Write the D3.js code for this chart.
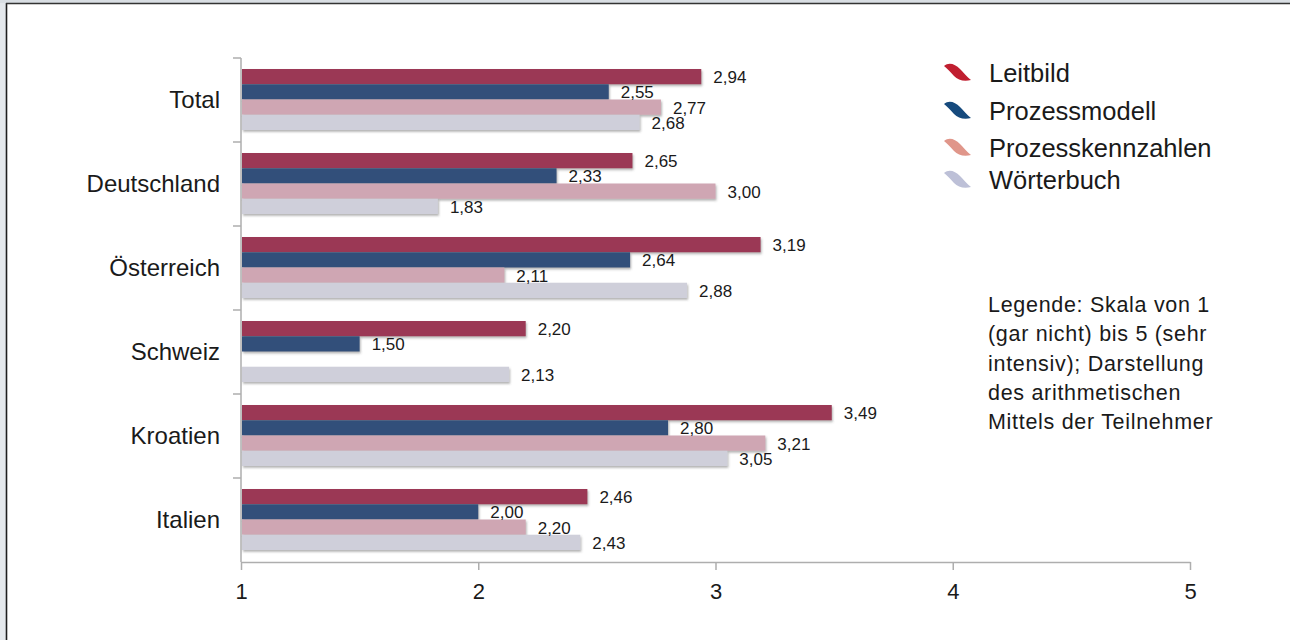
<!DOCTYPE html>
<html>
<head>
<meta charset="utf-8">
<script src="https://cdn.jsdelivr.net/npm/d3@7"></script>
<style>
  html, body { margin: 0; padding: 0; background: #ffffff; overflow: hidden; }
  svg { display: block; }
  text { font-family: "Liberation Sans", Arial, Helvetica, sans-serif; fill: #1a1a1a; }
</style>
</head>
<body>
<svg id="chart" width="1290" height="640"></svg>
<script>
// ---- data ----
const categories = ["Total", "Deutschland", "Österreich", "Schweiz", "Kroatien", "Italien"];
const seriesNames = ["Leitbild", "Prozessmodell", "Prozesskennzahlen", "Wörterbuch"];
const leitbild          = [2.94, 2.65, 3.19, 2.20, 3.49, 2.46];
const prozessmodell     = [2.55, 2.33, 2.64, 1.50, 2.80, 2.00];
const prozesskennzahlen = [2.77, 3.00, 2.11, null, 3.21, 2.20];
const woerterbuch       = [2.68, 1.83, 2.88, 2.13, 3.05, 2.43];
const xTicks = [1, 2, 3, 4, 5];
const noteLines = [
  "Legende: Skala von 1",
  "(gar nicht) bis 5 (sehr",
  "intensiv); Darstellung",
  "des arithmetischen",
  "Mittels der Teilnehmer"
];

const barColors = ["#9b3855", "#33507a", "#cfa6b3", "#cfcfda"];
const legendColors = ["#c01f30", "#164a7d", "#e0968a", "#bdc0d7"];

const seriesValues = [leitbild, prozessmodell, prozesskennzahlen, woerterbuch];

const svg = d3.select("#chart");

// ---- frame ----
svg.append("rect").attr("x", 0).attr("y", 0).attr("width", 1290).attr("height", 640).attr("fill", "#ffffff");
svg.append("rect").attr("x", 0).attr("y", 0).attr("width", 7).attr("height", 640).attr("fill", "#e4e8ec");
svg.append("rect").attr("x", 0).attr("y", 0).attr("width", 1290).attr("height", 3).attr("fill", "#d9dee3");
svg.append("line").attr("x1", 6.5).attr("x2", 6.5).attr("y1", 3).attr("y2", 640)
  .attr("stroke", "#1e1e1e").attr("stroke-width", 1.6);
svg.append("line").attr("x1", 6).attr("x2", 1290).attr("y1", 3.5).attr("y2", 3.5)
  .attr("stroke", "#333333").attr("stroke-width", 1.4);

// ---- scales ----
const x = d3.scaleLinear().domain([1, 5]).range([241, 1190]);
const y = d3.scaleBand().domain(categories).range([58, 562]).paddingInner(0).paddingOuter(0);
const inner = d3.scaleBand().domain(seriesNames)
  .range([11, y.bandwidth() - 12]).padding(0);

// ---- shadow filter ----
const defs = svg.append("defs");
const f = defs.append("filter").attr("id", "shadow")
  .attr("x", "-5%").attr("y", "-30%").attr("width", "110%").attr("height", "170%");
f.append("feDropShadow").attr("dx", 1).attr("dy", 1.8).attr("stdDeviation", 0.9)
  .attr("flood-color", "#555").attr("flood-opacity", 0.45);

// ---- axes ----
const axisColor = "#aeaeae";
const yAxisG = svg.append("g");
yAxisG.append("line").attr("x1", x(1)).attr("x2", x(1)).attr("y1", y.range()[0]).attr("y2", y.range()[1])
  .attr("stroke", axisColor).attr("stroke-width", 1.5);
const boundaries = categories.map(c => y(c));
yAxisG.selectAll("line.bt").data(boundaries).enter().append("line").attr("class", "bt")
  .attr("x1", x(1) - 8).attr("x2", x(1)).attr("y1", d => d).attr("y2", d => d)
  .attr("stroke", axisColor).attr("stroke-width", 1.5);

// category labels
const yLab = svg.append("g").attr("transform", `translate(${x(1)},0)`)
  .call(d3.axisLeft(y).tickSize(0).tickPadding(21));
yLab.select(".domain").remove();
yLab.selectAll("text").attr("font-size", 24).attr("fill", "#141414")
  .style("font-family", '"Liberation Sans", Arial, sans-serif');

// x axis
const xAxisG = svg.append("g").attr("transform", `translate(0,${y.range()[1]})`)
  .call(d3.axisBottom(x).tickValues(xTicks).tickSize(8).tickSizeOuter(0).tickFormat(d3.format("d")));
xAxisG.select(".domain").attr("stroke", axisColor).attr("stroke-width", 1.5);
xAxisG.selectAll(".tick line").attr("stroke", axisColor).attr("stroke-width", 1.5);
xAxisG.selectAll(".tick text").attr("font-size", 22).attr("y", 37).attr("dy", 0)
  .attr("fill", "#141414").style("font-family", '"Liberation Sans", Arial, sans-serif');

// ---- bars ----
const fmt = v => d3.format(".2f")(v).replace(".", ",");
const barRows = [];
categories.forEach((c, ci) => {
  seriesNames.forEach((s, si) => {
    const v = seriesValues[si][ci];
    if (v !== null && v !== undefined) barRows.push({ c, s, si, v });
  });
});

const barsG = svg.append("g");
barsG.selectAll("rect.bar").data(barRows).enter().append("rect").attr("class", "bar")
  .attr("x", x(1) + 1)
  .attr("y", d => y(d.c) + inner(d.s))
  .attr("width", d => x(d.v) - x(1) - 1)
  .attr("height", inner.bandwidth())
  .attr("fill", d => barColors[d.si])
  .attr("filter", "url(#shadow)");

svg.append("g").selectAll("text.val").data(barRows).enter().append("text").attr("class", "val")
  .attr("x", d => x(d.v) + 12)
  .attr("y", d => y(d.c) + inner(d.s) + inner.bandwidth() / 2 + 1)
  .attr("dominant-baseline", "central")
  .attr("font-size", 17)
  .attr("fill", "#141414")
  .text(d => fmt(d.v));

// ---- legend ----
const legendY = [73, 111, 148, 180];
const leafPath = "M0,3 C5,-1 11,1 16,6 C19,9 23,14 27,17 C20,19 14,17 10,13 C7,10 4,6 0,3 Z";
const lg = svg.append("g");
const items = lg.selectAll("g.li").data(seriesNames).enter().append("g").attr("class", "li")
  .attr("transform", (d, i) => `translate(944,${legendY[i]})`);
items.append("path").attr("d", leafPath).attr("transform", "translate(0,-10)")
  .attr("fill", (d, i) => legendColors[i]);
items.append("text").attr("x", 45).attr("y", 0).attr("dominant-baseline", "central")
  .attr("font-size", 25.5).attr("fill", "#1a1a1a").text(d => d);

// ---- note ----
svg.append("g").selectAll("text.note").data(noteLines).enter().append("text").attr("class", "note")
  .attr("x", 988).attr("y", (d, i) => 312 + i * 29.3)
  .attr("font-size", 21.5).attr("letter-spacing", 0.7).attr("fill", "#222")
  .text(d => d);
</script>
</body>
</html>
